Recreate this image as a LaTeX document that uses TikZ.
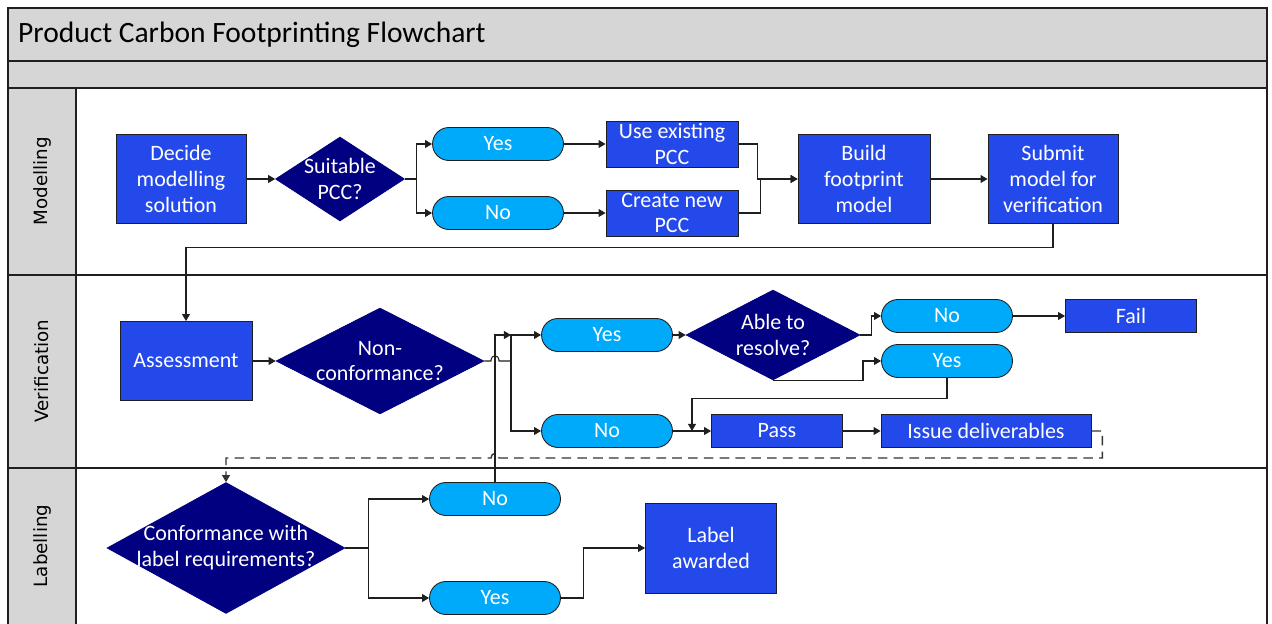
\documentclass[tikz,border=0pt]{standalone}
\usepackage{fontspec}
\setmainfont{Carlito}
\newfontfamily\lanefont{DejaVu Sans}
\usetikzlibrary{arrows.meta,positioning,calc,shapes.geometric}
\definecolor{ink}{HTML}{1F1F1F}
\definecolor{dashink}{HTML}{333333}
\definecolor{lanegray}{HTML}{D6D6D6}
\definecolor{procblue}{HTML}{2449EB}
\definecolor{navy}{HTML}{000080}
\definecolor{sky}{HTML}{00AAFA}
\newcommand{\nodesize}{\fontsize{12.5}{14.7}\selectfont}
\tikzset{
  box/.style={draw=ink,fill=procblue,line width=0.5pt,align=center,text=white,font=\nodesize,inner sep=0pt},
  pill/.style={draw=ink,fill=sky,rounded corners=0.33cm,line width=0.5pt,minimum width=2.62cm,minimum height=0.66cm,text=white,font=\nodesize,inner sep=0pt},
  ask/.style={diamond,fill=navy,draw=navy,line width=0.4pt,inner sep=0pt},
  asktext/.style={text=white,align=center,font=\nodesize,inner sep=0pt},
  wire/.style={line width=0.6pt,draw=ink},
  flow/.style={wire,-{Triangle[length=4pt,width=4.5pt]}},
  backflow/.style={flow,draw=dashink,line width=0.8pt,dash pattern=on 5.5pt off 3.5pt},
  frame/.style={line width=1pt,draw=ink},
  lanename/.style={rotate=90,font=\lanefont\fontsize{10.4}{12}\selectfont}
}

\begin{document}
\begin{tikzpicture}[x=0.02cm,y=-0.02cm]
  \useasboundingbox (0,0) rectangle (1272,624);
  % pool and lanes
  \fill[lanegray] (8,8) rectangle (1267,88);
  \fill[lanegray] (8,88) rectangle (76,624);
  \draw[frame] (8,624) -- (8,8) -- (1267,8) -- (1267,624);
  \draw[frame] (8,61) -- (1267,61);
  \draw[frame] (8,88) -- (1267,88);
  \draw[frame] (8,275) -- (1267,275);
  \draw[frame] (8,468) -- (1267,468);
  \draw[frame] (76,88) -- (76,624);
  \node[anchor=west,font=\fontsize{16.8}{20}\selectfont] (title) at (12,35) {Product Carbon Footprinting Flowchart};
  \node[lanename] (lmodel) at (42,181) {Modelling};
  \node[lanename] (lverify) at (42,371) {Verification};
  \node[lanename] (llabel) at (42,546) {Labelling};

  % modelling
  \node[box,minimum width=2.6cm,minimum height=1.78cm] (decide) at (181,179) {Decide\\modelling\\solution};
  \node[ask,minimum width=2.58cm,minimum height=1.68cm,label={[asktext]center:{Suitable\\PCC?}}] (suitable) at (340,179) {};
  \node[pill] (yes1) at (498,144) {Yes};
  \node[pill] (no1) at (498,213) {No};
  \node[box,minimum width=2.64cm,minimum height=0.92cm] (useexist) at (672,144) {Use existing\\PCC};
  \node[box,minimum width=2.64cm,minimum height=0.92cm] (createnew) at (672,213) {Create new\\PCC};
  \node[box,minimum width=2.64cm,minimum height=1.78cm] (build) at (864,179) {Build\\footprint\\model};
  \node[box,minimum width=2.6cm,minimum height=1.78cm] (submit) at (1053,179) {Submit\\model for\\verification};

  % verification
  \node[box,minimum width=2.64cm,minimum height=1.58cm] (assess) at (186,361) {Assessment};
  \node[ask,minimum width=4.16cm,minimum height=2.12cm,label={[asktext]center:{Non-\\conformance?}}] (noncon) at (380,361) {};
  \node[pill] (yes2) at (607,335) {Yes};
  \node[pill] (no2) at (607,431) {No};
  \node[ask,minimum width=3.48cm,minimum height=1.8cm,label={[asktext]center:{Able to\\resolve?}}] (able) at (773,335) {};
  \node[pill] (no3) at (947,316) {No};
  \node[pill] (yes3) at (947,361) {Yes};
  \node[box,minimum width=2.62cm,minimum height=0.66cm] (fail) at (1131,316) {Fail};
  \node[box,minimum width=2.62cm,minimum height=0.66cm] (pass) at (777,431) {Pass};
  \node[box,minimum width=4.2cm,minimum height=0.66cm] (issue) at (986,431) {Issue deliverables};

  % labelling
  \node[ask,minimum width=4.76cm,minimum height=2.62cm,label={[asktext]center:{Conformance with\\label requirements?}}] (conform) at (226,548) {};
  \node[pill] (no4) at (495,499) {No};
  \node[pill] (yes4) at (495,598) {Yes};
  \node[box,minimum width=2.62cm,minimum height=1.8cm] (label) at (711,548) {Label\\awarded};

  % connectors
  \draw[flow] (decide) -- (suitable);
  \draw[flow] (suitable.east) -- ++(12,0) |- (yes1.west);
  \draw[flow] (suitable.east) -- ++(12,0) |- (no1.west);
  \draw[flow] (yes1) -- (useexist);
  \draw[flow] (no1) -- (createnew);
  \draw[flow] (useexist.east) -- ++(19,0) |- (build.west);
  \draw[flow] (createnew.east) -- ++(22,0) |- (build.west);
  \draw[flow] (build) -- (submit);
  \draw[flow] (submit.south) -- ++(0,24) -| (assess.north);

  \coordinate (split) at (511,361);
  \coordinate (rejoin) at (511,335);
  \coordinate (merge) at ($(no2.east)!.5!(pass.west)$);
  \draw[flow] (assess) -- (noncon);
  \draw[wire] (noncon.east) -- (491,361) .. controls (491,354) and (499,354) .. (499,361) -- (split);
  \draw[flow] (split) |- (yes2.west);
  \draw[flow] (split) |- (no2.west);
  \draw[flow] (yes2) -- (able);
  \draw[flow] (able.east) -- ++(11,0) |- (no3.west);
  \draw[flow] (able.south) -- ++(90,0) |- (yes3.west);
  \draw[flow] (no3) -- (fail);
  \draw[flow] (yes3.south) -- ++(0,21) -| (merge);
  \draw[flow] (no2) -- (pass);
  \draw[flow] (pass) -- (issue);
  \draw[backflow] (issue.east) -- ++(11,0) |- (499,458) .. controls (499,452) and (491,452) .. (491,458) -| (conform.north);

  \draw[flow] (conform.east) -- ++(23,0) |- (no4.west);
  \draw[flow] (conform.east) -- ++(23,0) |- (yes4.west);
  \draw[flow] (yes4.east) -- ++(23,0) |- (label.west);
  \draw[flow] (no4.north) |- (rejoin);
\end{tikzpicture}
\end{document}
